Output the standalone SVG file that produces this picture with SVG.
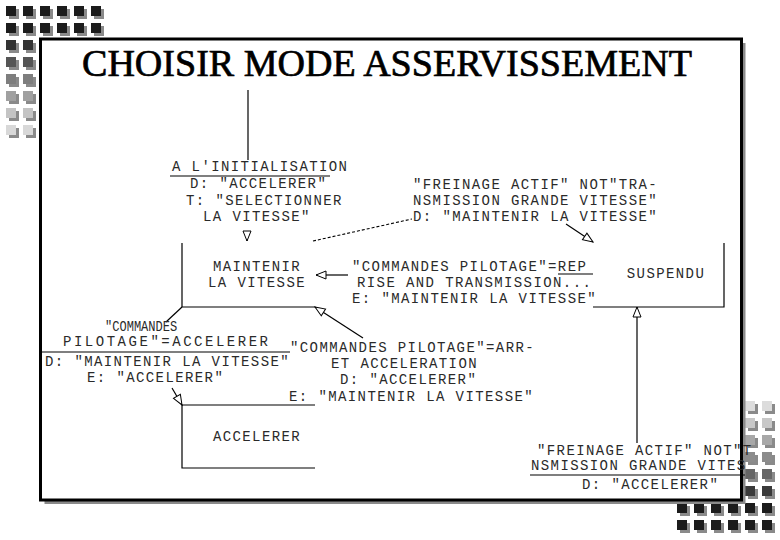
<svg xmlns="http://www.w3.org/2000/svg" width="780" height="540" viewBox="0 0 780 540">
<style>
.t{font-family:"Liberation Mono","DejaVu Sans Mono",monospace;font-size:14px;letter-spacing:1.4px;fill:#2a2a2a}
.m{text-anchor:middle}
.ns{letter-spacing:0}
.title{font-family:"Liberation Serif","Times New Roman",serif;font-size:38px;fill:#000;stroke:#000;stroke-width:0.7}
.l{stroke:#000;stroke-width:1.2;fill:none}
.d{stroke:#000;stroke-width:1.1;fill:none;stroke-dasharray:3 2}
.sh{fill:#8a8a8a}
</style>
<defs>
<marker id="open" markerUnits="userSpaceOnUse" markerWidth="12" markerHeight="10" refX="10" refY="4" orient="auto" overflow="visible">
<path d="M0,0 L10,4 L0,8 Z" fill="#fff" stroke="#000" stroke-width="1"/>
</marker>
</defs>
<rect width="780" height="540" fill="#fff"/>
<g id="decor-top-left">
<g class="sh">
<rect x="9" y="9" width="10" height="10"/><rect x="26" y="9" width="10" height="10"/><rect x="43" y="9" width="10" height="10"/><rect x="60" y="9" width="10" height="10"/><rect x="77" y="9" width="10" height="10"/><rect x="94" y="9" width="10" height="10"/>
<rect x="9" y="26" width="10" height="10"/><rect x="26" y="26" width="10" height="10"/><rect x="43" y="26" width="10" height="10"/><rect x="60" y="26" width="10" height="10"/><rect x="77" y="26" width="10" height="10"/><rect x="94" y="26" width="10" height="10"/>
<rect x="9" y="43" width="10" height="10"/><rect x="26" y="43" width="10" height="10"/>
<rect x="9" y="60" width="10" height="10"/><rect x="26" y="60" width="10" height="10"/>
<rect x="9" y="77" width="10" height="10"/><rect x="26" y="77" width="10" height="10"/>
<rect x="9" y="94" width="10" height="10"/><rect x="26" y="94" width="10" height="10"/>
<rect x="9" y="111" width="10" height="10"/><rect x="26" y="111" width="10" height="10"/>
<rect x="9" y="128" width="10" height="10"/><rect x="26" y="128" width="10" height="10"/>
</g>
<g fill="#1c1c1c">
<rect x="6" y="6" width="10" height="10"/><rect x="23" y="6" width="10" height="10"/><rect x="40" y="6" width="10" height="10"/><rect x="57" y="6" width="10" height="10"/><rect x="74" y="6" width="10" height="10"/><rect x="91" y="6" width="10" height="10"/>
<rect x="6" y="23" width="10" height="10"/><rect x="23" y="23" width="10" height="10"/><rect x="40" y="23" width="10" height="10"/><rect x="57" y="23" width="10" height="10"/><rect x="74" y="23" width="10" height="10"/><rect x="91" y="23" width="10" height="10"/>
</g>
<rect x="6" y="40" width="10" height="10" fill="#333"/><rect x="23" y="40" width="10" height="10" fill="#333"/>
<rect x="6" y="57" width="10" height="10" fill="#555"/><rect x="23" y="57" width="10" height="10" fill="#555"/>
<rect x="6" y="74" width="10" height="10" fill="#7e7e7e"/><rect x="23" y="74" width="10" height="10" fill="#7e7e7e"/>
<rect x="6" y="91" width="10" height="10" fill="#a0a0a0"/><rect x="23" y="91" width="10" height="10" fill="#a0a0a0"/>
<rect x="6" y="108" width="10" height="10" fill="#c4c4c4"/><rect x="23" y="108" width="10" height="10" fill="#c4c4c4"/>
<rect x="6" y="125" width="10" height="10" fill="#d8d8d8"/><rect x="23" y="125" width="10" height="10" fill="#d8d8d8"/>
</g>
<g id="decor-bottom-right">
<g class="sh">
<rect x="748" y="404" width="10" height="10"/><rect x="765" y="404" width="10" height="10"/>
<rect x="748" y="421" width="10" height="10"/><rect x="765" y="421" width="10" height="10"/>
<rect x="748" y="438" width="10" height="10"/><rect x="765" y="438" width="10" height="10"/>
<rect x="748" y="455" width="10" height="10"/><rect x="765" y="455" width="10" height="10"/>
<rect x="748" y="472" width="10" height="10"/><rect x="765" y="472" width="10" height="10"/>
<rect x="748" y="489" width="10" height="10"/><rect x="765" y="489" width="10" height="10"/>
<rect x="680" y="506" width="10" height="10"/><rect x="697" y="506" width="10" height="10"/><rect x="714" y="506" width="10" height="10"/><rect x="731" y="506" width="10" height="10"/><rect x="748" y="506" width="10" height="10"/><rect x="765" y="506" width="10" height="10"/>
<rect x="680" y="523" width="10" height="10"/><rect x="697" y="523" width="10" height="10"/><rect x="714" y="523" width="10" height="10"/><rect x="731" y="523" width="10" height="10"/><rect x="748" y="523" width="10" height="10"/><rect x="765" y="523" width="10" height="10"/>
</g>
<rect x="745" y="401" width="10" height="10" fill="#dcdcdc"/><rect x="762" y="401" width="10" height="10" fill="#dcdcdc"/>
<rect x="745" y="418" width="10" height="10" fill="#c8c8c8"/><rect x="762" y="418" width="10" height="10" fill="#c8c8c8"/>
<rect x="745" y="435" width="10" height="10" fill="#a8a8a8"/><rect x="762" y="435" width="10" height="10" fill="#a8a8a8"/>
<rect x="745" y="452" width="10" height="10" fill="#8c8c8c"/><rect x="762" y="452" width="10" height="10" fill="#8c8c8c"/>
<rect x="745" y="469" width="10" height="10" fill="#666"/><rect x="762" y="469" width="10" height="10" fill="#666"/>
<rect x="745" y="486" width="10" height="10" fill="#3a3a3a"/><rect x="762" y="486" width="10" height="10" fill="#3a3a3a"/>
<g fill="#1c1c1c">
<rect x="677" y="503" width="10" height="10"/><rect x="694" y="503" width="10" height="10"/><rect x="711" y="503" width="10" height="10"/><rect x="728" y="503" width="10" height="10"/><rect x="745" y="503" width="10" height="10"/><rect x="762" y="503" width="10" height="10"/>
<rect x="677" y="520" width="10" height="10"/><rect x="694" y="520" width="10" height="10"/><rect x="711" y="520" width="10" height="10"/><rect x="728" y="520" width="10" height="10"/><rect x="745" y="520" width="10" height="10"/><rect x="762" y="520" width="10" height="10"/>
</g>
</g>
<g id="frame">
<rect x="44.5" y="43" width="701" height="461" fill="#8a8a8a"/>
<rect x="40.5" y="39" width="701" height="461" fill="#fff" stroke="#000" stroke-width="3"/>
<text class="title" x="82" y="76" textLength="610" lengthAdjust="spacingAndGlyphs">CHOISIR MODE ASSERVISSEMENT</text>
</g>
<g id="connectors">
<line class="l" x1="248" y1="90" x2="248" y2="160"/>
<line class="l" x1="170" y1="176" x2="330" y2="176"/>
<line class="l" x1="247" y1="233" x2="247" y2="241" marker-end="url(#open)"/>
<line class="d" x1="313" y1="241" x2="412" y2="219"/>
<line class="l" x1="566" y1="224" x2="593" y2="242" marker-end="url(#open)"/>
<line class="l" x1="348" y1="275" x2="316" y2="275" marker-end="url(#open)"/>
<line class="l" x1="558" y1="274" x2="593" y2="274"/>
<line class="l" x1="182" y1="307" x2="166" y2="322"/>
<line class="l" x1="40" y1="352" x2="290" y2="352"/>
<line class="l" x1="172" y1="388" x2="182" y2="405" marker-end="url(#open)"/>
<line class="l" x1="363" y1="338" x2="315" y2="307" marker-end="url(#open)"/>
<line class="l" x1="637" y1="443" x2="637" y2="307" marker-end="url(#open)"/>
<line class="l" x1="530" y1="475" x2="745" y2="475"/>
</g>
<g id="node-maintenir">
<path class="l" d="M182,243 V307 H315"/>
<text class="t m" x="257" y="271">MAINTENIR</text>
<text class="t m" x="257" y="287">LA VITESSE</text>
</g>
<g id="node-suspendu">
<path class="l" d="M593,307 H724 V243"/>
<text class="t m" x="666" y="278">SUSPENDU</text>
</g>
<g id="node-accelerer">
<path class="l" d="M315,405 H182 V468 H315"/>
<text class="t m" x="257" y="441">ACCELERER</text>
</g>
<g id="labels">
<text class="t" x="172" y="171">A L'INITIALISATION</text>
<text class="t" x="190" y="188">D: "ACCELERER"</text>
<text class="t" x="186" y="205">T: "SELECTIONNER</text>
<text class="t" x="203" y="221">LA VITESSE"</text>
<text class="t" x="413" y="189">"FREINAGE ACTIF" NOT"TRA-</text>
<text class="t" x="413" y="205">NSMISSION GRANDE VITESSE"</text>
<text class="t" x="413" y="221">D: "MAINTENIR LA VITESSE"</text>
<text class="t" x="352" y="271">"COMMANDES PILOTAGE"=REP</text>
<text class="t" x="357" y="287">RISE AND TRANSMISSION...</text>
<text class="t" x="352" y="303">E: "MAINTENIR LA VITESSE"</text>
<text class="t ns" transform="translate(105,331) scale(0.86,1)" x="0" y="0">"COMMANDES</text>
<text class="t ns" x="63" y="346" textLength="205" lengthAdjust="spacing">PILOTAGE"=ACCELERER</text>
<text class="t" x="45" y="366">D: "MAINTENIR LA VITESSE"</text>
<text class="t" x="87" y="382">E: "ACCELERER"</text>
<text class="t" x="290" y="352">"COMMANDES PILOTAGE"=ARR-</text>
<text class="t" x="331" y="368">ET ACCELERATION</text>
<text class="t" x="340" y="384">D: "ACCELERER"</text>
<text class="t" x="289" y="401">E: "MAINTENIR LA VITESSE"</text>
<text class="t" x="537" y="455">"FREINAGE ACTIF" NOT"T</text>
<text class="t" x="531" y="470">NSMISSION GRANDE VITES</text>
<text class="t" x="582" y="489">D: "ACCELERER"</text>
</g>
</svg>
